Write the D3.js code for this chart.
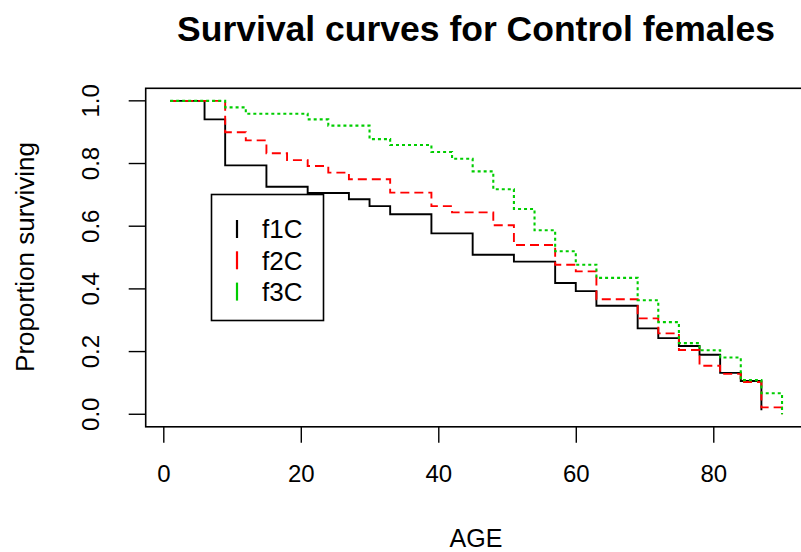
<!DOCTYPE html>
<html>
<head>
<meta charset="utf-8">
<script src="https://cdn.jsdelivr.net/npm/d3@7"></script>
<style>
html,body{margin:0;padding:0;background:#fff;}
svg{display:block;font-family:"Liberation Sans",Arial,sans-serif;}
</style>
</head>
<body>
<svg id="chart" width="801" height="552"></svg>
<script>
// ---- data ----
const ages = [1, 6, 9, 12, 15, 18, 21, 24, 27, 30, 33, 36, 39, 42, 45, 48, 51, 54, 57, 60, 63, 66, 69, 72, 75, 78, 81, 84, 87, 90];
const seriesNames = ["f1C", "f2C", "f3C"];
const f1C = [1.0, 0.941, 0.794, 0.794, 0.726, 0.726, 0.706, 0.706, 0.686, 0.664, 0.638, 0.638, 0.577, 0.577, 0.509, 0.509, 0.487, 0.487, 0.419, 0.393, 0.346, 0.346, 0.274, 0.243, 0.218, 0.190, 0.132, 0.106, 0.013, null];
const f2C = [1.0, 1.0, 0.900, 0.874, 0.833, 0.811, 0.792, 0.771, 0.750, 0.750, 0.707, 0.707, 0.664, 0.644, 0.644, 0.603, 0.540, 0.540, 0.477, 0.456, 0.367, 0.367, 0.306, 0.258, 0.205, 0.155, 0.129, 0.103, 0.022, 0.0];
const f3C = [1.0, 1.0, 0.979, 0.959, 0.959, 0.959, 0.941, 0.921, 0.921, 0.878, 0.859, 0.859, 0.837, 0.815, 0.775, 0.718, 0.655, 0.587, 0.520, 0.477, 0.435, 0.435, 0.364, 0.294, 0.227, 0.204, 0.181, 0.109, 0.067, 0.0];
const xTicks = [0, 20, 40, 60, 80];
const yTicks = [0.0, 0.2, 0.4, 0.6, 0.8, 1.0];
const titleText = "Survival curves for Control females";
const xLabel = "AGE";
const yLabel = "Proportion surviving";

// ---- styles ----
const colors = ["#000000", "#ff0000", "#00cd00"];
const dashes = [null, "9,5", "3,3"];
const widths = [1.9, 1.9, 2.1];
const tickFont = 24, labFont = 26, legFont = 26, titleFont = 35.5;

const svg = d3.select("#chart");
const pL = 145.7, pR = 806.5, pT = 88.3, pB = 426.8;
const x = d3.scaleLinear().domain([-2.56, 93.56]).range([pL, pR]);
const y = d3.scaleLinear().domain([-0.04, 1.04]).range([pB, pT]);

// box
svg.append("rect").attr("x", pL).attr("y", pT)
  .attr("width", pR - pL).attr("height", pB - pT)
  .attr("fill", "none").attr("stroke", "#000").attr("stroke-width", 1.6);

// x axis
const xAxis = svg.append("g").attr("transform", `translate(0,${pB})`)
  .call(d3.axisBottom(x).tickValues(xTicks).tickFormat(d3.format("d")).tickSize(16).tickPadding(0));
xAxis.select(".domain").remove();
xAxis.selectAll("line").attr("stroke", "#000").attr("stroke-width", 1.4);
xAxis.selectAll("text").attr("font-size", tickFont).attr("fill", "#000")
  .attr("font-family", "Liberation Sans, Arial, sans-serif")
  .attr("y", 482 - pB).attr("dy", null);

// y axis
const yAxis = svg.append("g").attr("transform", `translate(${pL},0)`)
  .call(d3.axisLeft(y).tickValues(yTicks).tickFormat(d3.format(".1f")).tickSize(17).tickPadding(0));
yAxis.select(".domain").remove();
yAxis.selectAll("line").attr("stroke", "#000").attr("stroke-width", 1.4);
yAxis.selectAll(".tick").attr("transform", null);
yAxis.selectAll(".tick line").attr("transform", d => `translate(0,${y(d)})`);
yAxis.selectAll(".tick text")
  .attr("font-size", tickFont).attr("fill", "#000").attr("font-family", "Liberation Sans, Arial, sans-serif")
  .attr("x", 0).attr("y", 0).attr("dy", null)
  .attr("text-anchor", "middle")
  .attr("transform", d => `translate(${99 - pL},${y(d)}) rotate(-90)`);

// curves
const line = d3.line()
  .defined(d => d[1] !== null)
  .x(d => x(d[0])).y(d => y(d[1]))
  .curve(d3.curveStepAfter);
[f1C, f2C, f3C].forEach((vals, i) => {
  const pts = ages.map((a, j) => [a, vals[j]]);
  svg.append("path").datum(pts)
    .attr("d", line)
    .attr("fill", "none")
    .attr("stroke", colors[i])
    .attr("stroke-width", widths[i])
    .attr("stroke-dasharray", dashes[i]);
});

// legend
const lg = svg.append("g");
lg.append("rect").attr("x", 211.5).attr("y", 194.5).attr("width", 112).attr("height", 126)
  .attr("fill", "#fff").attr("stroke", "#000").attr("stroke-width", 1.6);
seriesNames.forEach((n, i) => {
  const cy = 229 + i * 31.3;
  lg.append("line").attr("x1", 237).attr("x2", 237).attr("y1", cy - 9).attr("y2", cy + 9)
    .attr("stroke", colors[i]).attr("stroke-width", 2.2);
  lg.append("text").attr("x", 262).attr("y", cy + 9.3).attr("font-size", legFont).attr("fill", "#000").text(n);
});

// titles
svg.append("text").attr("x", 476).attr("y", 41).attr("text-anchor", "middle")
  .attr("font-size", titleFont).attr("font-weight", "bold").attr("fill", "#000").text(titleText);
svg.append("text").attr("x", 476).attr("y", 547).attr("text-anchor", "middle")
  .attr("font-size", 25).attr("fill", "#000").text(xLabel);
svg.append("text").attr("transform", `translate(34,257) rotate(-90)`).attr("text-anchor", "middle")
  .attr("font-size", labFont).attr("fill", "#000").text(yLabel);
</script>
</body>
</html>
